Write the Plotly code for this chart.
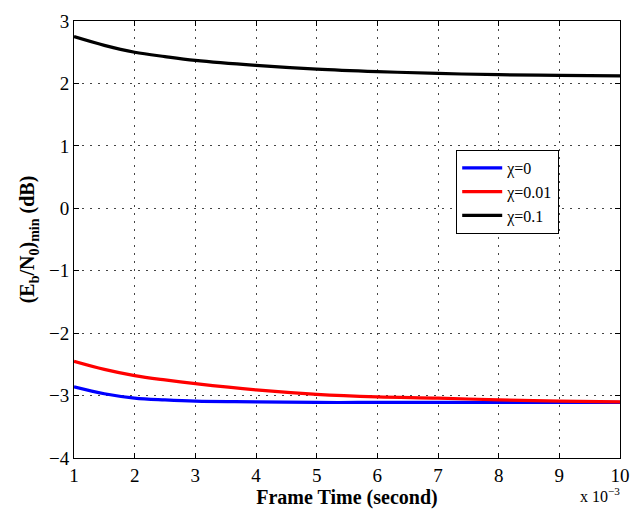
import plotly.graph_objects as go

frame_time = [1, 1.5, 2, 2.5, 3, 4, 5, 6, 7, 8, 9, 10]  # x 10^-3 s
chi0 = [-2.86, -2.97, -3.04, -3.07, -3.09, -3.10, -3.11, -3.11, -3.11, -3.11, -3.11, -3.11]
chi001 = [-2.45, -2.58, -2.68, -2.75, -2.81, -2.91, -2.98, -3.02, -3.04, -3.07, -3.09, -3.10]
chi01 = [2.75, 2.61, 2.50, 2.43, 2.37, 2.29, 2.23, 2.19, 2.16, 2.14, 2.13, 2.12]
names = ["χ=0", "χ=0.01", "χ=0.1"]
colors = ["#0000ff", "#ff0000", "#000000"]

font = "Liberation Serif"

fig = go.Figure()
for ys, nm, c in zip([chi0, chi001, chi01], names, colors):
    fig.add_trace(go.Scatter(x=frame_time, y=ys, mode="lines", name=nm,
                             line=dict(color=c, width=3.2, shape="spline")))

axis_common = dict(showline=True, linecolor="black", linewidth=1, mirror="allticks",
                   ticks="inside", ticklen=5, tickcolor="black",
                   showgrid=True, gridcolor="#444444", griddash="2px,6px", gridwidth=1,
                   zeroline=False, tickfont=dict(family=font, size=19, color="black"))

fig.update_xaxes(range=[1, 10], dtick=1, tick0=1,
                 title=dict(text="<b>Frame Time (second)</b>", standoff=0,
                            font=dict(family=font, size=20, color="black")),
                 **axis_common)
fig.update_yaxes(range=[-4, 3], dtick=1,
                 title=dict(text="<b>(E<sub>b</sub>/N<sub>0</sub>)<sub>min</sub> (dB)</b>", standoff=8,
                            font=dict(family=font, size=20, color="black")),
                 **axis_common)

fig.add_annotation(text="x 10<sup>−3</sup>", xref="paper", yref="paper", x=1.004, y=-0.058,
                   xanchor="right", yanchor="top", showarrow=False,
                   font=dict(family=font, size=16, color="black"))

fig.update_layout(width=641, height=511, margin=dict(l=74, r=11, t=18, b=52),
                  plot_bgcolor="white", paper_bgcolor="white",
                  font=dict(family=font, color="black"),
                  legend=dict(x=0.70, y=0.705, xanchor="left", yanchor="top",
                              bgcolor="white", bordercolor="black", borderwidth=1,
                              font=dict(family=font, size=16, color="black"),
                              tracegroupgap=0, itemwidth=40, entrywidth=90))

fig.write_html("out.html")
